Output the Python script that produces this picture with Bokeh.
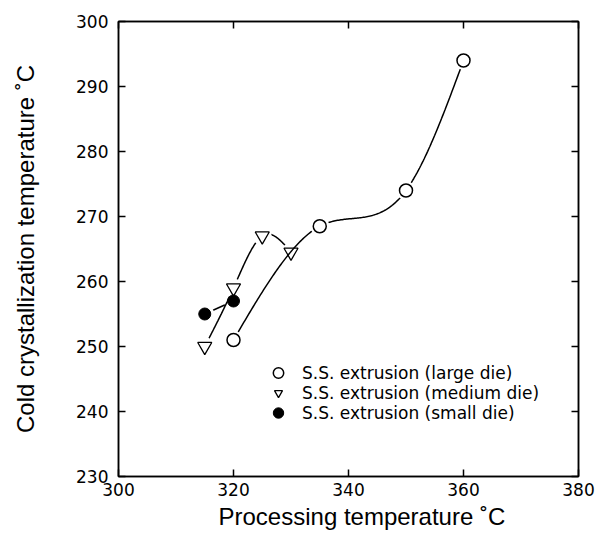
import numpy as np
from bokeh.plotting import figure
from bokeh.models import LinearAxis, Legend, LegendItem, Range1d, FixedTicker, Title
from bokeh.embed import file_html
from bokeh.resources import INLINE

# ---- data ----
large_x = [320, 335, 350, 360]
large_y = [251, 268.5, 274, 294]
medium_x = [315, 320, 325, 330]
medium_y = [250, 259, 267, 264.5]
small_x = [315, 320]
small_y = [255, 257]
series_labels = ["S.S. extrusion (large die)", "S.S. extrusion (medium die)", "S.S. extrusion (small die)"]
x_ticks = [300, 320, 340, 360, 380]
y_ticks = [230, 240, 250, 260, 270, 280, 290, 300]
x_title = "Processing temperature \u02daC"
y_title = "Cold crystallization temperature \u02daC"


def natural_spline(xs, ys, n=200):
    xs = np.asarray(xs, float)
    ys = np.asarray(ys, float)
    k = len(xs)
    h = np.diff(xs)
    A = np.zeros((k, k))
    b = np.zeros(k)
    A[0, 0] = 1
    A[-1, -1] = 1
    for i in range(1, k - 1):
        A[i, i - 1] = h[i - 1]
        A[i, i] = 2 * (h[i - 1] + h[i])
        A[i, i + 1] = h[i]
        b[i] = 6 * ((ys[i + 1] - ys[i]) / h[i] - (ys[i] - ys[i - 1]) / h[i - 1])
    M = np.linalg.solve(A, b)
    xx = np.linspace(xs[0], xs[-1], n)
    yy = np.empty_like(xx)
    for j, x in enumerate(xx):
        i = min(np.searchsorted(xs, x, side="right") - 1, k - 2)
        hi = h[i]
        a = (xs[i + 1] - x) / hi
        bb = (x - xs[i]) / hi
        yy[j] = (a * ys[i] + bb * ys[i + 1]
                 + ((a ** 3 - a) * M[i] + (bb ** 3 - bb) * M[i + 1]) * hi ** 2 / 6)
    return xx, yy


p = figure(width=596, height=538, output_backend="svg", toolbar_location=None,
           x_range=Range1d(300, 380), y_range=Range1d(230, 300),
           min_border_left=118, min_border_right=18, min_border_top=21, min_border_bottom=62)
p.xgrid.visible = False
p.ygrid.visible = False
p.outline_line_color = "black"
p.outline_line_width = 1.5
p.background_fill_color = "white"
p.border_fill_color = "white"

for ax in p.xaxis:
    ax.ticker = FixedTicker(ticks=x_ticks, minor_ticks=[])
for ax in p.yaxis:
    ax.ticker = FixedTicker(ticks=y_ticks, minor_ticks=[])


def style_axis(ax):
    ax.axis_line_color = "black"
    ax.axis_line_width = 1.5
    ax.major_tick_line_color = "black"
    ax.major_tick_line_width = 1.5
    ax.major_tick_in = 7
    ax.major_tick_out = 0
    ax.minor_tick_line_color = None
    ax.major_label_text_font = "DejaVu Sans"
    ax.major_label_text_font_size = "17px"
    ax.major_label_text_color = "black"
    ax.axis_label_text_font = "Liberation Sans"
    ax.axis_label_text_font_size = "24px"
    ax.axis_label_text_font_style = "normal"
    ax.axis_label_text_color = "black"


xa = p.xaxis[0]
ya = p.yaxis[0]
style_axis(xa)
style_axis(ya)
xa.major_label_standoff = 6
ya.major_label_standoff = 10
ya.axis_label = y_title
ya.axis_label_standoff = 34

xtitle = Title(text=x_title, align="left", offset=100, standoff=5,
               text_font="Liberation Sans", text_font_size="24px",
               text_font_style="normal", text_color="black")
p.add_layout(xtitle, "below")

top = LinearAxis(ticker=FixedTicker(ticks=x_ticks, minor_ticks=[]))
right = LinearAxis(ticker=FixedTicker(ticks=y_ticks, minor_ticks=[]))
for ax, ticks in ((top, x_ticks), (right, y_ticks)):
    style_axis(ax)
    ax.major_label_overrides = {t: "" for t in ticks}
    ax.major_label_standoff = 0
p.add_layout(top, "above")
p.add_layout(right, "right")

# curves, each followed by white halos so the line stops short of its markers
p.line(small_x, small_y, line_color="black", line_width=1.5)
p.scatter(small_x, small_y, marker="circle", size=19, fill_color="white", line_color=None)

mx, my = natural_spline(medium_x, medium_y)
p.line(mx, my, line_color="black", line_width=1.5)
p.scatter(medium_x, medium_y, marker="circle", size=19, fill_color="white", line_color=None)

lx, ly = natural_spline(large_x, large_y)
p.line(lx, ly, line_color="black", line_width=1.5)
p.scatter(large_x, large_y, marker="circle", size=19, fill_color="white", line_color=None)

# markers
r_large = p.scatter(large_x, large_y, marker="circle", size=13, fill_color="white",
                    line_color="black", line_width=1.5)
r_medium = p.scatter(medium_x, medium_y, marker="inverted_triangle", size=14, fill_alpha=0,
                     line_color="black", line_width=1.3)
r_small = p.scatter(small_x, small_y, marker="circle", size=12, fill_color="black",
                    line_color="black", line_width=1)

renderers = [r_large, r_medium, r_small]
glyph_widths = [26, 20, 26]
x_locs = [147, 150, 147]
standoffs = [11, 14, 11]
for i, (lab, r, gw, xl, so) in enumerate(zip(series_labels, renderers, glyph_widths, x_locs, standoffs)):
    lg = Legend(items=[LegendItem(label=lab, renderers=[r])],
                location=(xl, 90 - 20 * i), padding=0, margin=0, spacing=0,
                glyph_width=gw, glyph_height=27, label_height=20, label_standoff=so,
                label_text_font="DejaVu Sans", label_text_font_size="17px",
                label_text_color="black", label_text_baseline="middle",
                border_line_color=None, background_fill_alpha=0)
    p.add_layout(lg, "center")

open("out.html", "w").write(file_html(p, INLINE))
